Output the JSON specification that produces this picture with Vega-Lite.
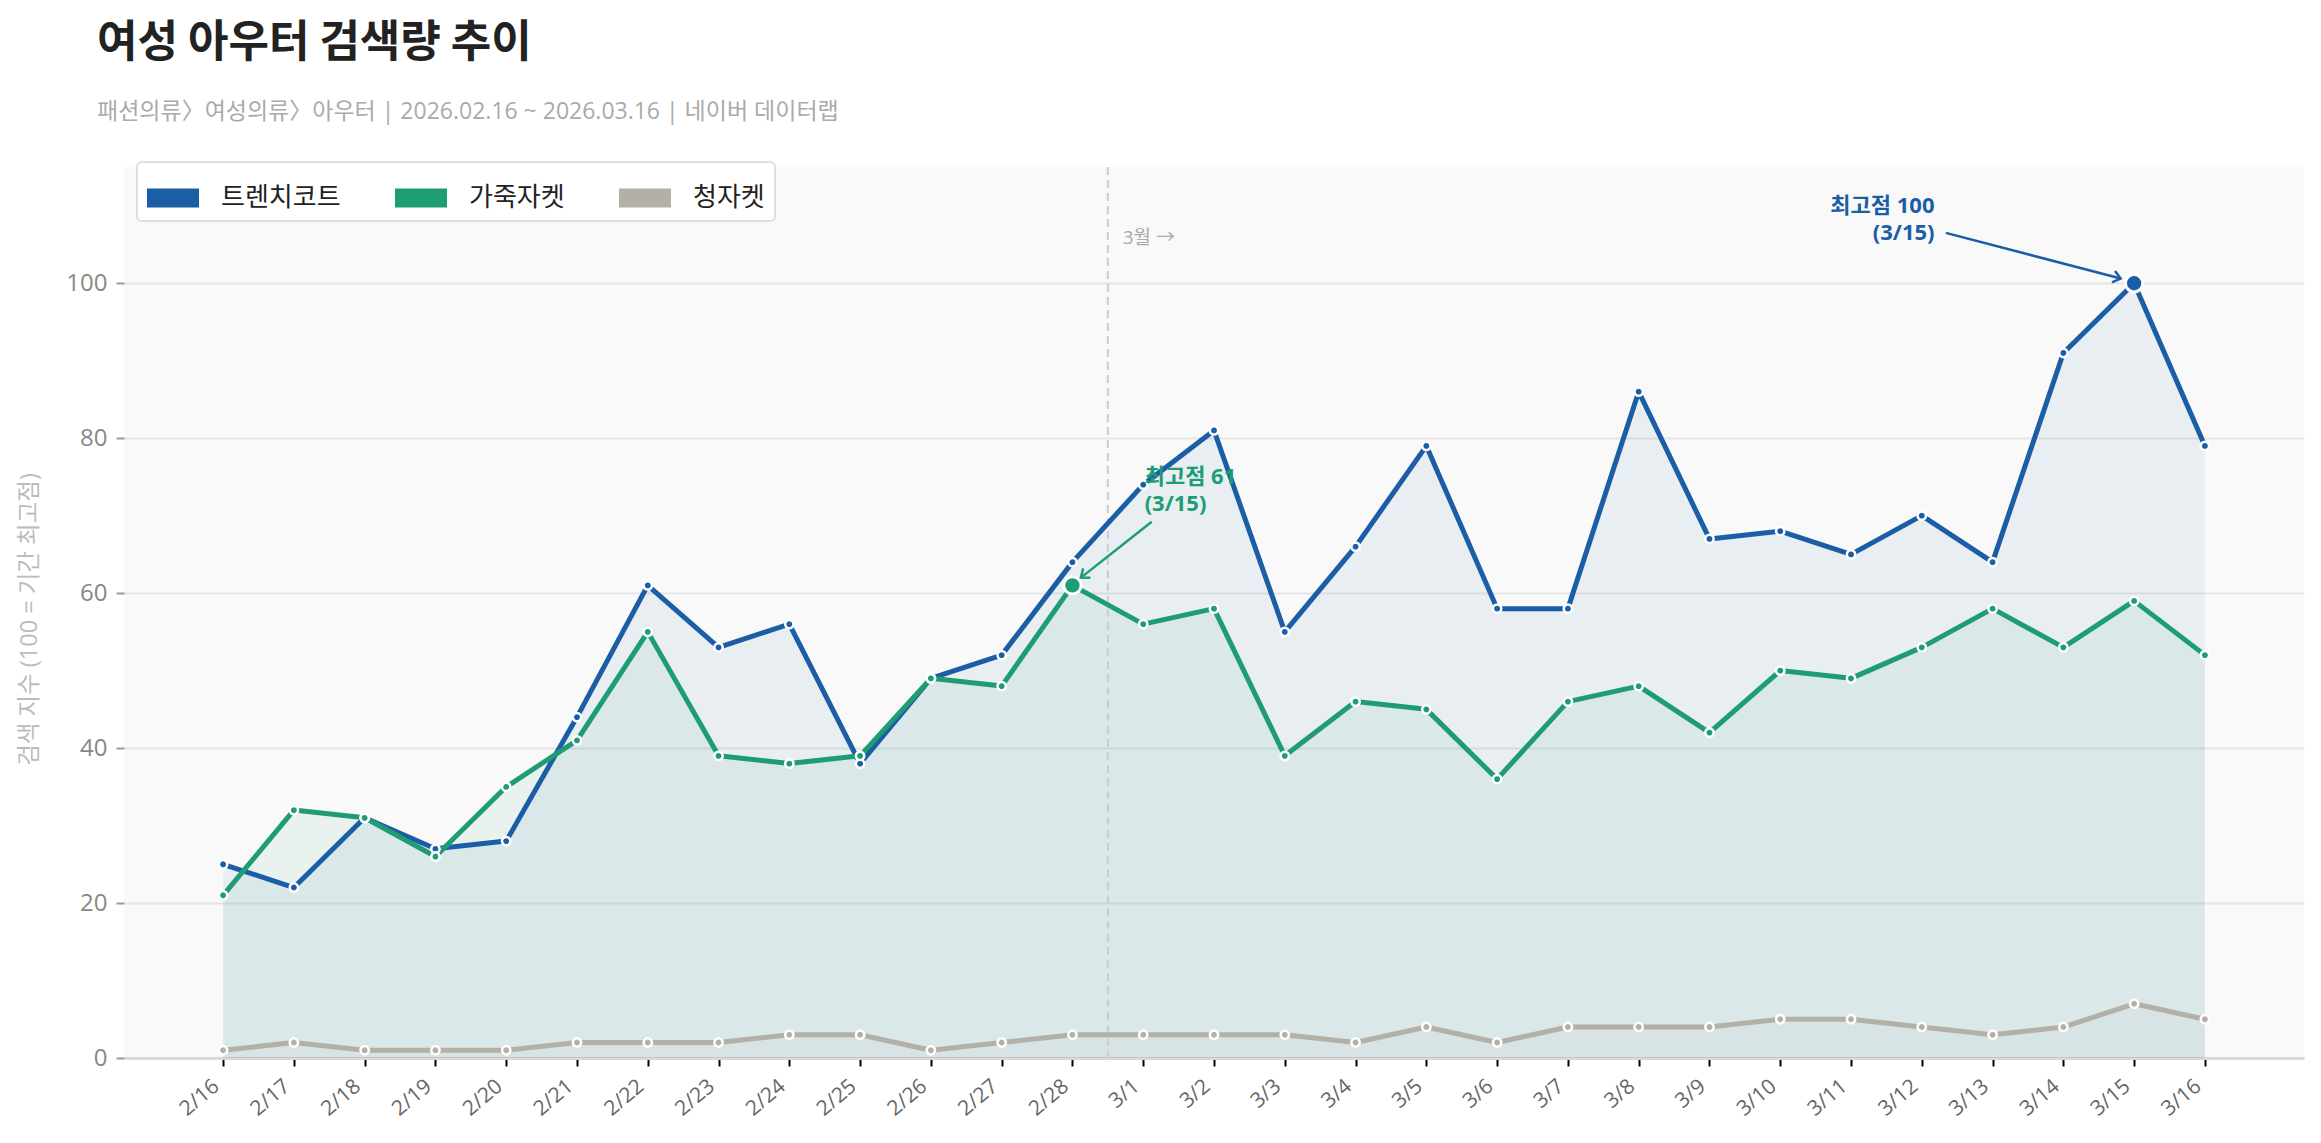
{
  "$schema": "https://vega.github.io/schema/vega-lite/v6.json",
  "width": 2180,
  "height": 891,
  "autosize": {"type": "none"},
  "padding": {"left": 124, "top": 167, "right": 17, "bottom": 85},
  "background": "#ffffff",
  "view": {"fill": "#f9f9f9", "stroke": null},
  "config": {
    "font": "Noto Sans CJK KR",
    "legend": {
      "orient": "none",
      "legendX": 13,
      "legendY": -5,
      "direction": "horizontal",
      "fillColor": "#ffffff",
      "strokeColor": "#dddddd",
      "strokeWidth": 2,
      "cornerRadius": 5,
      "padding": 10,
      "labelFont": "Noto Sans CJK KR",
      "labelFontSize": 26,
      "labelColor": "#222222",
      "labelOffset": 22,
      "columnPadding": 54,
      "symbolType": "M-1,-0.365L1,-0.365L1,0.365L-1,0.365Z",
      "symbolSize": 2704,
      "symbolStrokeWidth": 0,
      "symbolOpacity": 1
    }
  },
  "title": {
    "text": "여성 아우터 검색량 추이",
    "subtitle": "패션의류〉여성의류〉아우터   |   2026.02.16 ~ 2026.03.16   |   네이버 데이터랩",
    "anchor": "start",
    "frame": "group",
    "dx": -27,
    "offset": 37,
    "font": "Noto Sans CJK KR",
    "fontSize": 44,
    "fontWeight": "bold",
    "color": "#222222",
    "subtitleFont": "Open Sans, Noto Sans CJK KR",
    "subtitleFontSize": 23,
    "subtitleColor": "#aaaaaa",
    "subtitlePadding": 35
  },
  "datasets": {
    "trend": [
      {"date": "2026-02-16", "series": "트렌치코트", "value": 25},
      {"date": "2026-02-17", "series": "트렌치코트", "value": 22},
      {"date": "2026-02-18", "series": "트렌치코트", "value": 31},
      {"date": "2026-02-19", "series": "트렌치코트", "value": 27},
      {"date": "2026-02-20", "series": "트렌치코트", "value": 28},
      {"date": "2026-02-21", "series": "트렌치코트", "value": 44},
      {"date": "2026-02-22", "series": "트렌치코트", "value": 61},
      {"date": "2026-02-23", "series": "트렌치코트", "value": 53},
      {"date": "2026-02-24", "series": "트렌치코트", "value": 56},
      {"date": "2026-02-25", "series": "트렌치코트", "value": 38},
      {"date": "2026-02-26", "series": "트렌치코트", "value": 49},
      {"date": "2026-02-27", "series": "트렌치코트", "value": 52},
      {"date": "2026-02-28", "series": "트렌치코트", "value": 64},
      {"date": "2026-03-01", "series": "트렌치코트", "value": 74},
      {"date": "2026-03-02", "series": "트렌치코트", "value": 81},
      {"date": "2026-03-03", "series": "트렌치코트", "value": 55},
      {"date": "2026-03-04", "series": "트렌치코트", "value": 66},
      {"date": "2026-03-05", "series": "트렌치코트", "value": 79},
      {"date": "2026-03-06", "series": "트렌치코트", "value": 58},
      {"date": "2026-03-07", "series": "트렌치코트", "value": 58},
      {"date": "2026-03-08", "series": "트렌치코트", "value": 86},
      {"date": "2026-03-09", "series": "트렌치코트", "value": 67},
      {"date": "2026-03-10", "series": "트렌치코트", "value": 68},
      {"date": "2026-03-11", "series": "트렌치코트", "value": 65},
      {"date": "2026-03-12", "series": "트렌치코트", "value": 70},
      {"date": "2026-03-13", "series": "트렌치코트", "value": 64},
      {"date": "2026-03-14", "series": "트렌치코트", "value": 91},
      {"date": "2026-03-15", "series": "트렌치코트", "value": 100},
      {"date": "2026-03-16", "series": "트렌치코트", "value": 79},
      {"date": "2026-02-16", "series": "가죽자켓", "value": 21},
      {"date": "2026-02-17", "series": "가죽자켓", "value": 32},
      {"date": "2026-02-18", "series": "가죽자켓", "value": 31},
      {"date": "2026-02-19", "series": "가죽자켓", "value": 26},
      {"date": "2026-02-20", "series": "가죽자켓", "value": 35},
      {"date": "2026-02-21", "series": "가죽자켓", "value": 41},
      {"date": "2026-02-22", "series": "가죽자켓", "value": 55},
      {"date": "2026-02-23", "series": "가죽자켓", "value": 39},
      {"date": "2026-02-24", "series": "가죽자켓", "value": 38},
      {"date": "2026-02-25", "series": "가죽자켓", "value": 39},
      {"date": "2026-02-26", "series": "가죽자켓", "value": 49},
      {"date": "2026-02-27", "series": "가죽자켓", "value": 48},
      {"date": "2026-02-28", "series": "가죽자켓", "value": 61},
      {"date": "2026-03-01", "series": "가죽자켓", "value": 56},
      {"date": "2026-03-02", "series": "가죽자켓", "value": 58},
      {"date": "2026-03-03", "series": "가죽자켓", "value": 39},
      {"date": "2026-03-04", "series": "가죽자켓", "value": 46},
      {"date": "2026-03-05", "series": "가죽자켓", "value": 45},
      {"date": "2026-03-06", "series": "가죽자켓", "value": 36},
      {"date": "2026-03-07", "series": "가죽자켓", "value": 46},
      {"date": "2026-03-08", "series": "가죽자켓", "value": 48},
      {"date": "2026-03-09", "series": "가죽자켓", "value": 42},
      {"date": "2026-03-10", "series": "가죽자켓", "value": 50},
      {"date": "2026-03-11", "series": "가죽자켓", "value": 49},
      {"date": "2026-03-12", "series": "가죽자켓", "value": 53},
      {"date": "2026-03-13", "series": "가죽자켓", "value": 58},
      {"date": "2026-03-14", "series": "가죽자켓", "value": 53},
      {"date": "2026-03-15", "series": "가죽자켓", "value": 59},
      {"date": "2026-03-16", "series": "가죽자켓", "value": 52},
      {"date": "2026-02-16", "series": "청자켓", "value": 1},
      {"date": "2026-02-17", "series": "청자켓", "value": 2},
      {"date": "2026-02-18", "series": "청자켓", "value": 1},
      {"date": "2026-02-19", "series": "청자켓", "value": 1},
      {"date": "2026-02-20", "series": "청자켓", "value": 1},
      {"date": "2026-02-21", "series": "청자켓", "value": 2},
      {"date": "2026-02-22", "series": "청자켓", "value": 2},
      {"date": "2026-02-23", "series": "청자켓", "value": 2},
      {"date": "2026-02-24", "series": "청자켓", "value": 3},
      {"date": "2026-02-25", "series": "청자켓", "value": 3},
      {"date": "2026-02-26", "series": "청자켓", "value": 1},
      {"date": "2026-02-27", "series": "청자켓", "value": 2},
      {"date": "2026-02-28", "series": "청자켓", "value": 3},
      {"date": "2026-03-01", "series": "청자켓", "value": 3},
      {"date": "2026-03-02", "series": "청자켓", "value": 3},
      {"date": "2026-03-03", "series": "청자켓", "value": 3},
      {"date": "2026-03-04", "series": "청자켓", "value": 2},
      {"date": "2026-03-05", "series": "청자켓", "value": 4},
      {"date": "2026-03-06", "series": "청자켓", "value": 2},
      {"date": "2026-03-07", "series": "청자켓", "value": 4},
      {"date": "2026-03-08", "series": "청자켓", "value": 4},
      {"date": "2026-03-09", "series": "청자켓", "value": 4},
      {"date": "2026-03-10", "series": "청자켓", "value": 5},
      {"date": "2026-03-11", "series": "청자켓", "value": 5},
      {"date": "2026-03-12", "series": "청자켓", "value": 4},
      {"date": "2026-03-13", "series": "청자켓", "value": 3},
      {"date": "2026-03-14", "series": "청자켓", "value": 4},
      {"date": "2026-03-15", "series": "청자켓", "value": 7},
      {"date": "2026-03-16", "series": "청자켓", "value": 5}
    ],
    "notes": [
      {"date": "2026-03-12T04:19:00Z", "value": 110.0, "series": "트렌치코트", "label": "최고점 100\n(3/15)", "side": "right"},
      {"date": "2026-03-01T00:29:00Z", "value": 75.0, "series": "가죽자켓", "label": "최고점 61\n(3/15)", "side": "left"}
    ],
    "arrows": [
      {"date": "2026-03-12T08:10:00Z", "value": 106.5, "date2": "2026-03-14T19:26:00Z", "value2": 100.6, "series": "트렌치코트"},
      {"date": "2026-03-01T02:53:00Z", "value": 69.2, "date2": "2026-02-28T02:53:00Z", "value2": 62.0, "series": "가죽자켓"}
    ],
    "month": [
      {"date": "2026-02-28T12:00:00Z", "labelDate": "2026-02-28T17:03:00Z", "value": 105.8, "label": "3월 →"}
    ]
  },
  "encoding": {
    "x": {
      "field": "date",
      "type": "temporal",
      "scale": {
        "type": "utc",
        "nice": false,
        "domain": [
          {"year": 2026, "month": 2, "date": 14, "hours": 14, "minutes": 24, "utc": true},
          {"year": 2026, "month": 3, "date": 17, "hours": 9, "minutes": 36, "utc": true}
        ]
      },
      "axis": {
        "title": null,
        "format": "%-m/%-d",
        "values": [
          {"year": 2026, "month": 2, "date": 16, "utc": true},
          {"year": 2026, "month": 2, "date": 17, "utc": true},
          {"year": 2026, "month": 2, "date": 18, "utc": true},
          {"year": 2026, "month": 2, "date": 19, "utc": true},
          {"year": 2026, "month": 2, "date": 20, "utc": true},
          {"year": 2026, "month": 2, "date": 21, "utc": true},
          {"year": 2026, "month": 2, "date": 22, "utc": true},
          {"year": 2026, "month": 2, "date": 23, "utc": true},
          {"year": 2026, "month": 2, "date": 24, "utc": true},
          {"year": 2026, "month": 2, "date": 25, "utc": true},
          {"year": 2026, "month": 2, "date": 26, "utc": true},
          {"year": 2026, "month": 2, "date": 27, "utc": true},
          {"year": 2026, "month": 2, "date": 28, "utc": true},
          {"year": 2026, "month": 3, "date": 1, "utc": true},
          {"year": 2026, "month": 3, "date": 2, "utc": true},
          {"year": 2026, "month": 3, "date": 3, "utc": true},
          {"year": 2026, "month": 3, "date": 4, "utc": true},
          {"year": 2026, "month": 3, "date": 5, "utc": true},
          {"year": 2026, "month": 3, "date": 6, "utc": true},
          {"year": 2026, "month": 3, "date": 7, "utc": true},
          {"year": 2026, "month": 3, "date": 8, "utc": true},
          {"year": 2026, "month": 3, "date": 9, "utc": true},
          {"year": 2026, "month": 3, "date": 10, "utc": true},
          {"year": 2026, "month": 3, "date": 11, "utc": true},
          {"year": 2026, "month": 3, "date": 12, "utc": true},
          {"year": 2026, "month": 3, "date": 13, "utc": true},
          {"year": 2026, "month": 3, "date": 14, "utc": true},
          {"year": 2026, "month": 3, "date": 15, "utc": true},
          {"year": 2026, "month": 3, "date": 16, "utc": true}
        ],
        "labelAngle": -40,
        "labelAlign": "right",
        "labelBaseline": "top",
        "labelPadding": 9,
        "labelOffset": -14,
        "labelFont": "Open Sans",
        "labelFontSize": 21,
        "labelColor": "#666666",
        "labelOverlap": false,
        "labelFlush": false,
        "grid": false,
        "domainColor": "#d9d9d9",
        "domainWidth": 3,
        "tickColor": "#000000",
        "tickWidth": 2,
        "tickSize": 8
      }
    },
    "y": {
      "field": "value",
      "type": "quantitative",
      "scale": {"domain": [0, 115], "nice": false, "zero": false},
      "axis": {
        "title": "검색 지수 (100 = 기간 최고점)",
        "titleFont": "Open Sans, Noto Sans CJK KR",
        "titleFontSize": 23.5,
        "titleFontWeight": "normal",
        "titleColor": "#bbbbbb",
        "titleAngle": -90,
        "titleX": -95,
        "titleY": 452,
        "titleAlign": "center",
        "titleBaseline": "middle",
        "values": [0, 20, 40, 60, 80, 100],
        "labelFont": "Open Sans",
        "labelFontSize": 24,
        "labelColor": "#888888",
        "labelPadding": 9,
        "domain": false,
        "tickColor": "#999999",
        "tickWidth": 2,
        "tickSize": 8,
        "gridColor": "#e6e6e6",
        "gridWidth": 2
      }
    }
  },
  "layer": [
    {
      "data": {"name": "trend"},
      "mark": {"type": "area", "opacity": 0.07},
      "encoding": {
        "y": {"field": "value", "type": "quantitative", "stack": null},
        "color": {"field": "series", "type": "nominal",
          "scale": {"domain": ["트렌치코트", "가죽자켓", "청자켓"], "range": ["#1b5ea6", "#1e9c73", "#b3b0a8"]},
          "legend": {
            "title": null,
            "encode": {
              "symbols": {
                "update": {
                  "fill": {"scale": "color", "field": "value"},
                  "stroke": {"value": "transparent"},
                  "opacity": {"value": 1},
                  "fillOpacity": {"value": 1}
                }
              }
            }
          }
        }
      }
    },
    {
      "data": {"name": "month"},
      "mark": {"type": "rule", "color": "#cccccc", "strokeWidth": 2, "strokeDash": [8, 5]},
      "encoding": {"y": {"value": 0}, "y2": {"value": 891}}
    },
    {
      "data": {"name": "trend"},
      "mark": {"type": "line", "strokeWidth": 5, "strokeJoin": "round"},
      "encoding": {
        "color": {"field": "series", "type": "nominal"}
      }
    },
    {
      "data": {"name": "trend"},
      "mark": {"type": "point", "filled": true, "opacity": 1, "size": 70, "stroke": "#ffffff", "strokeWidth": 2.5},
      "encoding": {
        "color": {"field": "series", "type": "nominal"}
      }
    },
    {
      "data": {"name": "trend"},
      "transform": [
        {"joinaggregate": [{"op": "max", "field": "value", "as": "peak"}], "groupby": ["series"]},
        {"filter": "datum.value == datum.peak && datum.series != '청자켓'"}
      ],
      "mark": {"type": "point", "filled": true, "opacity": 1, "size": 300, "stroke": "#ffffff", "strokeWidth": 3},
      "encoding": {
        "color": {"field": "series", "type": "nominal"}
      }
    },
    {
      "data": {"name": "arrows"},
      "mark": {"type": "rule", "strokeWidth": 2.5},
      "encoding": {
        "x2": {"field": "date2", "type": "temporal"},
        "y2": {"field": "value2"},
        "color": {"field": "series", "type": "nominal"}
      }
    },
    {
      "data": {"name": "arrows"},
      "transform": [{"filter": "datum.series == '트렌치코트'"}],
      "mark": {"type": "point", "shape": "M-1,-0.8L0,0L-1,0.8", "filled": false, "size": 220, "strokeWidth": 2.5, "angle": 15, "opacity": 1},
      "encoding": {
        "x": {"field": "date2", "type": "temporal"},
        "y": {"field": "value2", "type": "quantitative"},
        "color": {"field": "series", "type": "nominal"}
      }
    },
    {
      "data": {"name": "arrows"},
      "transform": [{"filter": "datum.series == '가죽자켓'"}],
      "mark": {"type": "point", "shape": "M-1,-0.8L0,0L-1,0.8", "filled": false, "size": 220, "strokeWidth": 2.5, "angle": 142, "opacity": 1},
      "encoding": {
        "x": {"field": "date2", "type": "temporal"},
        "y": {"field": "value2", "type": "quantitative"},
        "color": {"field": "series", "type": "nominal"}
      }
    },
    {
      "data": {"name": "notes"},
      "transform": [{"filter": "datum.side == 'right'"}],
      "mark": {"type": "text", "align": "right", "baseline": "middle", "lineBreak": "\n", "lineHeight": 27, "fontSize": 22, "fontWeight": "bold", "font": "Open Sans, Noto Sans CJK KR"},
      "encoding": {
        "text": {"field": "label"},
        "color": {"field": "series", "type": "nominal"}
      }
    },
    {
      "data": {"name": "notes"},
      "transform": [{"filter": "datum.side == 'left'"}],
      "mark": {"type": "text", "align": "left", "baseline": "middle", "lineBreak": "\n", "lineHeight": 27, "fontSize": 22, "fontWeight": "bold", "font": "Open Sans, Noto Sans CJK KR"},
      "encoding": {
        "text": {"field": "label"},
        "color": {"field": "series", "type": "nominal"}
      }
    },
    {
      "data": {"name": "month"},
      "mark": {"type": "text", "align": "left", "baseline": "middle", "fontSize": 19, "color": "#aaaaaa", "font": "Open Sans, Noto Sans CJK KR"},
      "encoding": {
        "x": {"field": "labelDate", "type": "temporal"},
        "text": {"field": "label"}
      }
    }
  ]
}
